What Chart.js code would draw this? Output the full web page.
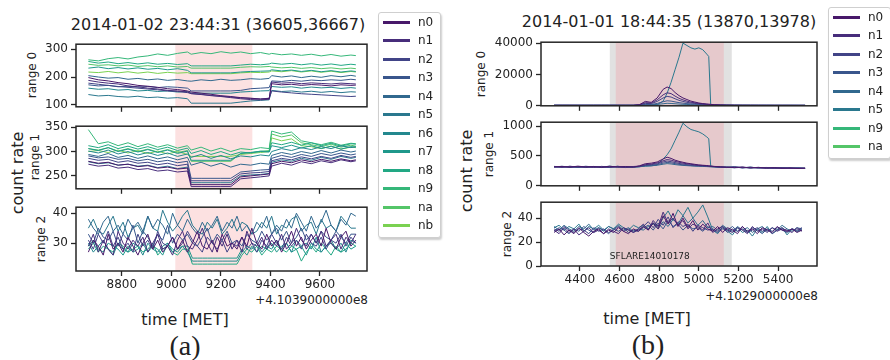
<!DOCTYPE html>
<html>
<head>
<meta charset="utf-8">
<script src="https://cdn.jsdelivr.net/npm/chart.js@4.4.0/dist/chart.umd.min.js"></script>
<style>
body { margin: 0; background: #fff; }
#fig { position: relative; width: 890px; height: 360px; overflow: hidden; font-family: 'DejaVu Sans', sans-serif; color: #222; }
#fig canvas { position: absolute; }
.txt { position: absolute; white-space: nowrap; transform: translate(-50%, -50%); }
.rtxt { position: absolute; white-space: nowrap; transform: translate(-100%, -50%); }
.rot { position: absolute; white-space: nowrap; transform: translate(-50%, -50%) rotate(-90deg); }
.legend { position: absolute; background: #fff; border: 1px solid #cfcfcf; border-radius: 3px; box-shadow: 1px 2px 2px rgba(0,0,0,0.2); }
.legend .sw { position: absolute; height: 3px; width: 27px; }
.legend .lb { position: absolute; font-size: 12px; line-height: 14px; }
.serif { font-family: 'Liberation Serif', 'DejaVu Serif', serif; }
</style>
</head>
<body>
<div id="fig">
  <div class="txt" style="left:218px; top:24px; font-size:16px;">2014-01-02 23:44:31 (36605,36667)</div>
  <div class="rot" style="left:32px; top:75px; font-size:12px;">range 0</div>
  <div class="rot" style="left:35px; top:157px; font-size:12px;">range 1</div>
  <div class="rot" style="left:41px; top:239px; font-size:12px;">range 2</div>
  <div class="rot" style="left:17px; top:173px; font-size:16px;">count rate</div>
  <div class="rtxt" style="left:368px; top:300px; font-size:12px;">+4.1039000000e8</div>
  <div class="txt" style="left:185px; top:319px; font-size:16px;">time [MET]</div>
  <div class="txt serif" style="left:185px; top:346px; font-size:28px;">(a)</div>

  <div class="txt" style="left:669px; top:21px; font-size:16px;">2014-01-01 18:44:35 (13870,13978)</div>
  <div class="rot" style="left:481px; top:74px; font-size:12px;">range 0</div>
  <div class="rot" style="left:489px; top:154px; font-size:12px;">range 1</div>
  <div class="rot" style="left:507px; top:234px; font-size:12px;">range 2</div>
  <div class="rot" style="left:466px; top:171px; font-size:16px;">count rate</div>
  <div class="rtxt" style="left:818px; top:296px; font-size:12px;">+4.1029000000e8</div>
  <div class="txt" style="left:647px; top:318px; font-size:16px;">time [MET]</div>
  <div class="txt serif" style="left:648px; top:345px; font-size:28px;">(b)</div>
</div>
<script>
// ---------- panel (a) data ----------
var tA = [8665, 8705, 8745, 8785, 8825, 8865, 8905, 8945, 8985, 9025, 9065, 9080, 9120, 9160, 9200,
          9240, 9280, 9320, 9360, 9395, 9405, 9445, 9485, 9525, 9565, 9605, 9645, 9685, 9725, 9745];
var detA = ['n0', 'n1', 'n2', 'n3', 'n4', 'n5', 'n6', 'n7', 'n8', 'n9', 'na', 'nb'];

var a0 = [
    [198, 190, 186, 180, 176, 170, 167, 163, 158, 155, 150, 146, 142, 138, 133, 130, 126, 124, 121, 123, 176, 172, 174, 170, 173, 171, 168, 172, 170, 171],
    [188, 182, 178, 175, 168, 165, 160, 157, 152, 150, 146, 140, 137, 133, 130, 126, 122, 119, 118, 120, 182, 178, 180, 176, 179, 177, 175, 178, 176, 175],
    [178, 174, 170, 166, 163, 160, 157, 154, 150, 148, 144, 141, 138, 134, 131, 128, 125, 123, 121, 124, 150, 146, 143, 140, 138, 136, 134, 132, 130, 131],
    [172, 168, 170, 165, 167, 164, 166, 162, 165, 163, 160, 150, 150, 150, 150, 150, 152, 158, 160, 162, 186, 184, 188, 185, 189, 187, 190, 188, 192, 190],
    [205, 200, 196, 198, 192, 195, 190, 193, 188, 191, 186, 185, 190, 187, 192, 188, 190, 194, 192, 195, 205, 200, 204, 198, 203, 199, 205, 201, 206, 203],
    [137, 132, 134, 130, 128, 131, 126, 128, 124, 126, 122, 106, 106, 106, 106, 106, 110, 114, 116, 118, 152, 148, 150, 146, 149, 145, 148, 144, 147, 146],
    [160, 156, 158, 153, 155, 150, 152, 148, 150, 146, 148, 142, 142, 142, 142, 142, 146, 148, 150, 151, 166, 163, 165, 160, 164, 161, 163, 159, 162, 160],
    [232, 236, 230, 234, 229, 233, 228, 231, 226, 230, 224, 215, 215, 215, 215, 215, 218, 220, 221, 222, 226, 222, 225, 220, 224, 219, 223, 218, 222, 220],
    [256, 250, 254, 248, 252, 247, 251, 246, 249, 245, 248, 240, 240, 240, 240, 240, 243, 246, 244, 247, 250, 246, 249, 244, 248, 243, 247, 242, 246, 244],
    [262, 258, 266, 270, 265, 272, 276, 283, 278, 285, 290, 282, 288, 284, 291, 286, 290, 284, 288, 282, 285, 280, 283, 278, 282, 276, 281, 275, 279, 277],
    [246, 242, 244, 240, 243, 238, 241, 237, 240, 236, 238, 232, 232, 232, 232, 232, 235, 237, 236, 238, 236, 233, 235, 231, 234, 230, 233, 229, 232, 230],
    [218, 216, 220, 215, 219, 214, 218, 213, 217, 214, 216, 212, 212, 212, 212, 212, 215, 217, 216, 218, 222, 219, 223, 218, 222, 217, 221, 216, 220, 218]
];
var a1 = [
    [280, 276, 278, 272, 274, 269, 271, 266, 268, 264, 266, 232, 232, 232, 232, 232, 248, 250, 252, 254, 275, 280, 277, 283, 279, 284, 280, 285, 281, 283],
    [274, 270, 272, 266, 268, 263, 265, 260, 262, 258, 260, 228, 228, 228, 228, 228, 244, 246, 248, 250, 270, 276, 272, 279, 275, 281, 277, 283, 279, 281],
    [286, 282, 284, 278, 281, 276, 278, 273, 276, 271, 274, 240, 240, 240, 240, 240, 254, 256, 257, 259, 281, 286, 283, 289, 285, 290, 286, 292, 288, 290],
    [291, 287, 289, 284, 286, 281, 284, 279, 282, 277, 280, 245, 245, 245, 245, 245, 258, 260, 262, 263, 286, 292, 288, 294, 290, 296, 292, 297, 293, 295],
    [294, 290, 296, 288, 292, 286, 291, 285, 289, 283, 288, 272, 278, 270, 276, 268, 274, 272, 276, 274, 292, 298, 294, 300, 296, 302, 297, 303, 299, 301],
    [279, 275, 277, 272, 274, 270, 272, 267, 270, 265, 268, 236, 236, 236, 236, 236, 250, 252, 253, 255, 278, 283, 280, 286, 282, 288, 284, 290, 286, 288],
    [301, 297, 303, 295, 300, 293, 298, 292, 297, 290, 295, 288, 294, 286, 292, 285, 291, 289, 293, 291, 300, 306, 302, 308, 304, 310, 306, 312, 308, 310],
    [306, 302, 308, 300, 305, 299, 304, 298, 303, 296, 301, 282, 282, 282, 282, 282, 296, 298, 300, 299, 312, 308, 313, 307, 312, 306, 311, 305, 310, 309],
    [312, 308, 314, 306, 311, 305, 310, 304, 309, 302, 307, 296, 302, 294, 300, 293, 299, 297, 301, 300, 318, 314, 319, 313, 318, 312, 317, 311, 316, 315],
    [345, 316, 320, 312, 318, 310, 316, 309, 314, 307, 312, 303, 309, 301, 307, 300, 306, 304, 308, 306, 342, 336, 340, 322, 318, 314, 319, 313, 317, 316],
    [306, 303, 308, 301, 306, 300, 305, 299, 304, 298, 302, 280, 280, 280, 280, 280, 296, 298, 300, 302, 336, 330, 334, 318, 314, 310, 315, 309, 313, 311],
    [300, 302, 298, 303, 297, 302, 296, 301, 295, 300, 294, 290, 290, 290, 290, 290, 294, 296, 298, 300, 328, 322, 326, 312, 310, 306, 311, 305, 309, 308]
];

// range 2 is binned finer
var tA2 = [8665, 8685, 8705, 8725, 8745, 8765, 8785, 8805, 8825, 8845,
           8865, 8885, 8905, 8925, 8945, 8965, 8985, 9005, 9025, 9045,
           9065, 9085, 9105, 9125, 9145, 9165, 9185, 9205, 9225, 9245,
           9265, 9285, 9305, 9325, 9345, 9365, 9385, 9405, 9425, 9445,
           9465, 9485, 9505, 9525, 9545, 9565, 9585, 9605, 9625, 9645,
           9665, 9685, 9705, 9725, 9745];
var a2 = [
    [27, 31, 29, 26, 33, 28, 30, 27, 32, 29, 26, 30, 33, 28, 31, 27, 29, 32, 28, 31, 27, 30, 34, 29, 28, 31, 27, 33, 29, 30,
     28, 32, 29, 35, 30, 28, 33, 29, 31, 27, 30, 34, 29, 32, 28, 31, 33, 29, 35, 30, 28, 32, 34, 29, 31],
    [29, 33, 27, 31, 28, 26, 34, 30, 28, 31, 29, 32, 27, 30, 33, 28, 29, 26, 31, 34, 29, 28, 31, 35, 30, 27, 32, 29, 33, 28,
     31, 27, 34, 30, 29, 32, 28, 31, 29, 33, 28, 30, 35, 31, 29, 33, 30, 34, 29, 31, 33, 28, 32, 30, 33],
    [31, 28, 33, 30, 34, 29, 32, 28, 30, 27, 33, 29, 31, 28, 34, 30, 29, 32, 28, 30, 34, 31, 29, 27, 32, 30, 28, 31, 27, 30,
     29, 32, 28, 30, 27, 31, 29, 33, 30, 28, 32, 29, 31, 28, 33, 30, 29, 32, 28, 31, 30, 33, 29, 32, 30],
    [33, 30, 35, 32, 31, 34, 29, 33, 31, 36, 30, 34, 32, 29, 33, 31, 36, 30, 33, 31, 33, 30, 29, 32, 35, 30, 33, 31, 34, 30,
     31, 29, 33, 31, 30, 34, 31, 33, 35, 31, 34, 30, 32, 35, 31, 33, 30, 34, 32, 31, 34, 32, 30, 33, 33],
    [38, 35, 33, 37, 39, 34, 36, 33, 38, 35, 37, 34, 39, 35, 38, 36, 33, 40, 36, 34, 38, 35, 33, 37, 34, 36, 39, 34, 37, 35,
     39, 34, 36, 33, 37, 35, 39, 33, 36, 34, 38, 35, 40, 37, 34, 39, 35, 37, 41, 36, 34, 38, 36, 40, 39],
    [35, 38, 34, 33, 36, 39, 34, 37, 32, 35, 36, 33, 39, 35, 34, 41, 37, 34, 36, 39, 41, 36, 34, 33, 37, 35, 38, 33, 35, 38,
     34, 37, 36, 33, 34, 37, 35, 39, 33, 36, 35, 38, 39, 34, 36, 37, 33, 38, 35, 36, 34, 39, 37, 35, 35],
    [30, 27, 29, 31, 28, 26, 30, 28, 27, 30, 29, 26, 30, 28, 27, 29, 30, 27, 28, 29, 27, 24, 24, 24, 24, 24, 24, 24, 24, 24,
     24, 27, 29, 28, 30, 27, 29, 28, 31, 28, 30, 27, 31, 29, 30, 28, 32, 27, 29, 31, 28, 30, 27, 31, 30],
    [29, 31, 28, 27, 30, 29, 28, 26, 29, 27, 28, 30, 27, 29, 28, 26, 30, 28, 27, 29, 29, 25, 25, 25, 25, 25, 25, 25, 25, 25,
     25, 28, 26, 29, 27, 29, 28, 30, 27, 29, 30, 27, 28, 29, 26, 30, 28, 27, 29, 30, 28, 27, 30, 28, 29],
    [28, 30, 27, 29, 28, 27, 30, 29, 27, 28, 29, 27, 28, 30, 26, 28, 29, 27, 26, 28, 28, 23, 23, 23, 23, 23, 23, 23, 23, 23,
     23, 26, 28, 27, 29, 26, 28, 27, 29, 28, 27, 29, 28, 24, 27, 29, 27, 30, 28, 26, 29, 27, 28, 30, 29],
    [], [], []
];

// ---------- panel (b) data ----------
var tB = [4270, 4310, 4350, 4390, 4430, 4470, 4510, 4550, 4590, 4630, 4670,
          4700, 4730, 4760, 4790, 4820, 4840, 4860, 4880, 4900, 4920, 4940, 4960, 4980, 5000, 5020, 5040, 5050, 5060, 5080, 5110,
          5140, 5180, 5220, 5260, 5300, 5340, 5380, 5420, 5460, 5500, 5536];
var detB = ['n0', 'n1', 'n2', 'n3', 'n4', 'n5', 'n9', 'na'];

var b0 = [
    [310, 305, 312, 300, 308, 302, 306, 298, 304, 300, 303, 700, 2800, 2200, 5000, 10500, 12000, 11000, 8500, 6500, 5000, 4000, 3000, 2400, 1800, 1400, 1100, 1000, 900, 700, 500, 400, 350, 330, 320, 310, 300, 300, 290, 290, 280, 280],
    [300, 306, 298, 304, 310, 296, 302, 308, 299, 305, 301, 600, 2000, 1800, 3800, 7000, 8300, 7800, 6200, 4800, 3800, 3000, 2300, 1900, 1500, 1200, 1000, 900, 800, 650, 480, 390, 340, 320, 310, 300, 300, 290, 290, 280, 280, 280],
    [295, 302, 298, 306, 300, 294, 304, 299, 303, 297, 301, 500, 1500, 1400, 2800, 5000, 6000, 5600, 4500, 3500, 2800, 2200, 1800, 1500, 1200, 1000, 850, 800, 700, 580, 450, 380, 340, 320, 310, 300, 300, 290, 290, 285, 280, 280],
    [305, 298, 302, 296, 307, 300, 295, 303, 298, 306, 300, 450, 900, 900, 1500, 2600, 3200, 3000, 2500, 2000, 1700, 1400, 1200, 1000, 850, 750, 650, 600, 550, 480, 400, 360, 330, 315, 305, 300, 295, 290, 290, 285, 280, 280],
    [298, 304, 300, 308, 296, 302, 306, 297, 301, 299, 304, 400, 600, 650, 900, 1300, 1600, 1500, 1300, 1100, 950, 850, 750, 650, 600, 550, 500, 480, 450, 420, 380, 350, 330, 315, 305, 300, 295, 290, 290, 285, 280, 280],
    [312, 306, 309, 301, 311, 304, 308, 300, 306, 302, 305, 350, 400, 450, 700, 3000, 8000, 15000, 23000, 31000, 40000, 38500, 37000, 36200, 37000, 35800, 33000, 31500, 500, 400, 360, 340, 320, 310, 300, 300, 295, 290, 290, 285, 280, 280],
    [], []
];
var b1 = [
    [318, 325, 312, 330, 315, 322, 310, 328, 316, 324, 313, 335, 370, 380, 400, 450, 480, 460, 430, 410, 395, 380, 370, 360, 350, 345, 340, 335, 330, 325, 318, 312, 305, 315, 300, 308, 296, 304, 292, 300, 290, 298],
    [322, 310, 328, 315, 320, 308, 326, 312, 318, 306, 324, 330, 355, 365, 385, 420, 440, 430, 410, 395, 380, 370, 360, 352, 345, 340, 335, 332, 328, 322, 316, 308, 318, 302, 312, 298, 306, 294, 302, 290, 298, 292],
    [312, 320, 308, 318, 310, 325, 306, 316, 322, 310, 318, 325, 345, 355, 370, 400, 415, 405, 390, 375, 365, 355, 348, 342, 338, 334, 330, 328, 325, 320, 314, 316, 306, 312, 300, 310, 298, 306, 296, 302, 292, 296],
    [326, 315, 320, 310, 328, 314, 318, 308, 326, 316, 311, 322, 340, 345, 355, 380, 392, 385, 372, 360, 352, 345, 340, 335, 332, 330, 326, 324, 322, 318, 312, 306, 314, 300, 310, 302, 296, 306, 294, 300, 296, 290],
    [315, 328, 311, 320, 306, 324, 314, 330, 310, 320, 316, 318, 332, 336, 345, 362, 372, 366, 356, 348, 342, 338, 334, 330, 328, 325, 322, 320, 318, 315, 310, 312, 302, 310, 298, 306, 300, 292, 304, 294, 298, 292],
    [320, 312, 326, 308, 322, 314, 318, 310, 328, 312, 320, 322, 330, 335, 350, 450, 520, 620, 760, 900, 1050, 990, 945, 925, 905, 870, 820, 790, 330, 322, 316, 310, 318, 304, 312, 300, 308, 296, 304, 292, 300, 294],
    [], []
];

// range 2 is binned finer
var tB2 = [4270, 4295, 4320, 4345, 4370, 4395, 4420, 4445, 4470, 4495,
           4520, 4545, 4570, 4595, 4620, 4645, 4670, 4695, 4720, 4745,
           4770, 4795, 4820, 4845, 4870, 4895, 4920, 4945, 4970, 4995,
           5020, 5045, 5070, 5095, 5120, 5145, 5170, 5195, 5220, 5245,
           5270, 5295, 5320, 5345, 5370, 5395, 5420, 5445, 5470, 5495,
           5520];
var b2 = [
    [28, 31, 26, 30, 27, 32, 28, 25, 29, 31, 27, 30, 28, 32, 29, 27, 31, 29, 33, 30, 36, 31, 42, 35, 44, 33, 40, 32, 38, 30,
     35, 31, 29, 33, 28, 32, 30, 27, 33, 29, 31, 27, 32, 30, 28, 33, 30, 29, 31, 28, 30],
    [30, 27, 32, 28, 31, 26, 29, 32, 28, 30, 27, 31, 29, 27, 32, 30, 28, 31, 35, 30, 38, 33, 45, 36, 40, 34, 38, 31, 35, 33,
     30, 36, 28, 31, 33, 30, 28, 32, 30, 27, 33, 29, 31, 28, 32, 29, 31, 30, 28, 32, 29],
    [31, 29, 33, 30, 28, 31, 30, 27, 32, 29, 31, 28, 30, 33, 29, 31, 28, 30, 33, 37, 32, 39, 34, 41, 32, 37, 33, 35, 29, 34,
     32, 30, 31, 29, 32, 28, 31, 29, 33, 28, 30, 32, 29, 31, 27, 30, 32, 29, 31, 30, 32],
    [29, 32, 30, 27, 31, 29, 33, 30, 28, 32, 30, 27, 31, 29, 32, 28, 30, 29, 32, 34, 30, 36, 31, 38, 33, 35, 30, 34, 31, 32,
     29, 33, 30, 28, 31, 30, 33, 29, 31, 28, 32, 30, 27, 31, 29, 32, 30, 28, 31, 29, 31],
    [33, 30, 34, 31, 29, 33, 31, 35, 30, 32, 29, 33, 31, 34, 30, 32, 29, 31, 30, 33, 35, 31, 37, 33, 39, 35, 42, 36, 40, 34,
     38, 32, 33, 30, 34, 31, 29, 33, 30, 32, 28, 31, 33, 29, 32, 30, 34, 31, 29, 32, 31],
    [32, 34, 30, 33, 31, 35, 29, 33, 31, 34, 30, 33, 31, 35, 32, 30, 34, 32, 34, 31, 36, 33, 40, 46, 38, 47, 42, 49, 40, 45,
     51, 41, 30, 27, 33, 29, 26, 32, 28, 30, 25, 31, 28, 33, 27, 30, 32, 26, 31, 29, 30],
    [], []
];

// axis ticks and limits
var xTicksA = [8800, 9000, 9200, 9400, 9600];
var xTicksB = [4400, 4600, 4800, 5000, 5200, 5400];
var xLimA = [8615, 9790];
var xLimB = [4204, 5596];

// trigger windows (time values)
var flareA = [9016, 9327];
var greyB = [4551, 5166];
var flareB = [4581, 5126];

// viridis colours per detector
var detColor = {
    n0: '#48186a', n1: '#472d7b', n2: '#414487', n3: '#39568c', n4: '#31688e', n5: '#2a788e',
    n6: '#23888e', n7: '#1f988b', n8: '#22a884', n9: '#35b779', na: '#54c568', nb: '#7ad151'
};

Chart.defaults.font.family = "'DejaVu Sans', sans-serif";
Chart.defaults.color = '#222';

function makeChart(box, times, rows, dets, xLim, xTicks, yLim, yTicks, withLabels, bands, note) {
    var padL = 60, padT = 10, padR = 12;
    var xH = withLabels ? 24 : 10;
    var cv = document.createElement('canvas');
    cv.width = box.w + padL + padR;
    cv.height = box.h + padT + xH;
    cv.style.left = (box.l - padL) + 'px';
    cv.style.top = (box.t - padT) + 'px';
    document.getElementById('fig').appendChild(cv);

    var datasets = [];
    dets.forEach(function(d, k) {
        var row = rows[k];
        if (!row || !row.length) return;
        datasets.push({
            label: d,
            data: times.map(function(t, i) { return {x: t, y: row[i]}; }),
            borderColor: detColor[d],
            borderWidth: 1,
            pointRadius: 0,
            tension: 0,
            fill: false
        });
    });

    var decor = {
        id: 'decor',
        beforeDatasetsDraw: function(chart) {
            var ctx = chart.ctx, a = chart.chartArea, x = chart.scales.x;
            ctx.save();
            bands.forEach(function(b) {
                var x0 = x.getPixelForValue(b.from), x1 = x.getPixelForValue(b.to);
                ctx.fillStyle = b.color;
                ctx.fillRect(x0, a.top, x1 - x0, a.bottom - a.top);
            });
            ctx.restore();
        },
        afterDraw: function(chart) {
            var ctx = chart.ctx, a = chart.chartArea;
            ctx.save();
            if (note) {
                ctx.fillStyle = '#222';
                ctx.font = "9px 'DejaVu Sans'";
                ctx.textBaseline = 'middle';
                ctx.fillText(note.text, chart.scales.x.getPixelForValue(note.x), chart.scales.y.getPixelForValue(note.y));
            }
            ctx.strokeStyle = '#262626';
            ctx.lineWidth = 1.5;
            ctx.strokeRect(a.left, a.top, a.right - a.left, a.bottom - a.top);
            ctx.restore();
        }
    };

    var tickGrid = {display: true, drawOnChartArea: false, drawTicks: true, tickLength: 5, tickWidth: 1.3, tickColor: '#262626'};

    return new Chart(cv.getContext('2d'), {
        type: 'line',
        data: {datasets: datasets},
        options: {
            responsive: false,
            animation: false,
            devicePixelRatio: 1,
            layout: {padding: {top: padT, right: padR, left: 0, bottom: 0}},
            plugins: {legend: {display: false}, tooltip: {enabled: false}},
            scales: {
                x: {
                    type: 'linear',
                    min: xLim[0], max: xLim[1],
                    afterBuildTicks: function(s) { s.ticks = xTicks.map(function(v) { return {value: v}; }); },
                    afterFit: function(s) { s.height = xH; },
                    ticks: {display: withLabels, padding: 2, maxRotation: 0, autoSkip: false,
                            font: {size: 12}, color: '#222', callback: function(v) { return String(v); }},
                    grid: tickGrid,
                    border: {display: false}
                },
                y: {
                    min: yLim[0], max: yLim[1],
                    afterBuildTicks: function(s) { s.ticks = yTicks.map(function(v) { return {value: v}; }); },
                    afterFit: function(s) { s.width = padL; },
                    ticks: {padding: 3, font: {size: 12}, color: '#222', callback: function(v) { return String(v); }},
                    grid: tickGrid,
                    border: {display: false}
                }
            }
        },
        plugins: [decor]
    });
}

var bandsA = [{from: flareA[0], to: flareA[1], color: 'rgba(240,120,120,0.22)'}];
var bandsB = [
    {from: greyB[0], to: greyB[1], color: '#e1e1e1'},
    {from: flareB[0], to: flareB[1], color: '#e6c9cc'}
];

makeChart({l: 76, t: 44, w: 291, h: 63}, tA, a0, detA, xLimA, xTicksA, [93, 318], [100, 200, 300], false, bandsA, null);
makeChart({l: 76, t: 126, w: 291, h: 63}, tA, a1, detA, xLimA, xTicksA, [223.5, 352], [250, 300, 350], false, bandsA, null);
makeChart({l: 76, t: 207, w: 291, h: 64}, tA2, a2, detA, xLimA, xTicksA, [20.7, 42], [30, 40], true, bandsA, null);

makeChart({l: 541, t: 42, w: 276, h: 64}, tB, b0, detB, xLimB, xTicksB, [0, 40600], [0, 20000, 40000], false, bandsB, null);
makeChart({l: 541, t: 122, w: 276, h: 64}, tB, b1, detB, xLimB, xTicksB, [0, 1067], [0, 500, 1000], false, bandsB, null);
makeChart({l: 541, t: 202, w: 276, h: 64}, tB2, b2, detB, xLimB, xTicksB, [0, 53.3], [0, 20, 40], true, bandsB,
          {text: 'SFLARE14010178', x: 4551, y: 7.5});

// legends
function makeLegend(dets, left, top, width, height, firstY, step) {
    var lg = document.createElement('div');
    lg.className = 'legend';
    lg.style.left = left + 'px';
    lg.style.top = top + 'px';
    lg.style.width = width + 'px';
    lg.style.height = height + 'px';
    dets.forEach(function(d, i) {
        var cy = Math.round(firstY + step * i - top);
        var sw = document.createElement('div');
        sw.className = 'sw';
        sw.style.left = '4px';
        sw.style.top = (cy - 2) + 'px';
        sw.style.background = detColor[d];
        lg.appendChild(sw);
        var lb = document.createElement('div');
        lb.className = 'lb';
        lb.style.left = '39px';
        lb.style.top = (cy - 8) + 'px';
        lb.textContent = d;
        lg.appendChild(lb);
    });
    document.getElementById('fig').appendChild(lg);
}
makeLegend(detA, 378, 12, 61, 224, 22, 18.45);
makeLegend(detB, 828, 7, 61, 150, 17, 18.43);
</script>
</body>
</html>
